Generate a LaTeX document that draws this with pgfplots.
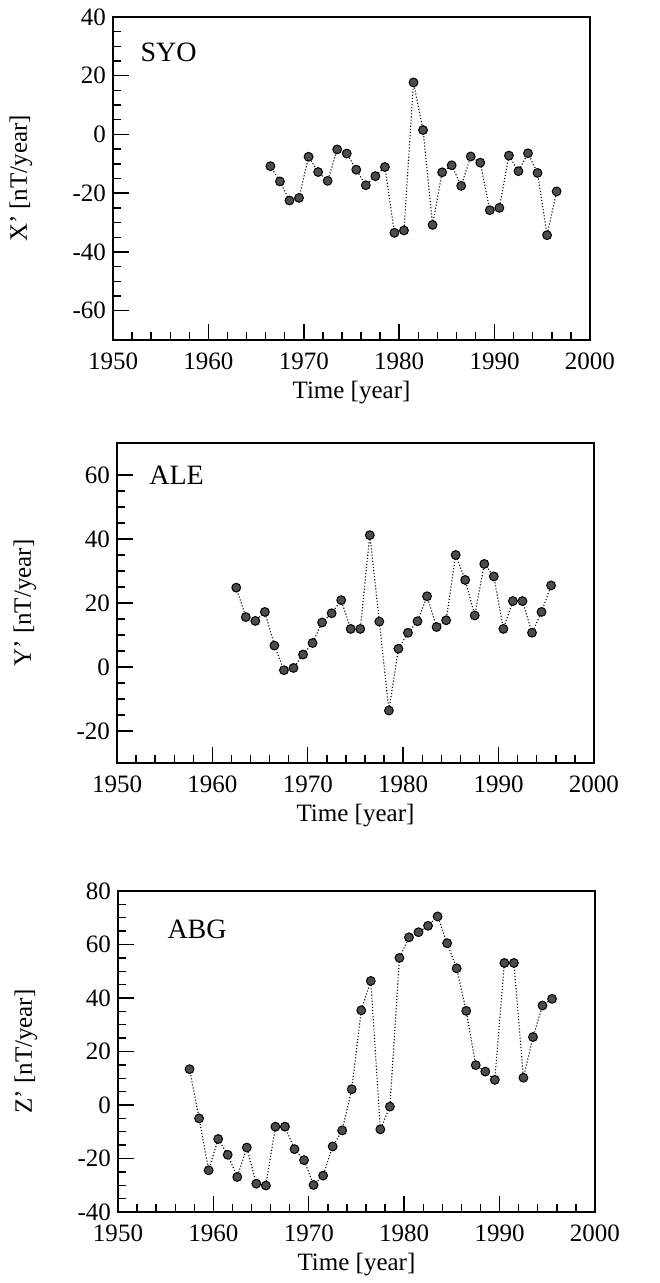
\documentclass[border=0pt]{standalone}
\usepackage{fontspec}
\setmainfont{Liberation Serif}
\usepackage{pgfplots}
\pgfplotsset{compat=1.18}

\pgfplotsset{
  geo/.style={
    scale only axis, width=238.5pt,
    xmin=1950, xmax=2000, xtick={1950,1960,...,2000}, minor x tick num=4,
    tick align=inside, tick pos=left,
    major tick length=8pt, minor tick length=4pt,
    every tick/.style={black, line width=0.7pt},
    axis line style={line width=0.8pt},
    /pgf/number format/assume math mode=true,
    /pgf/number format/1000 sep={},
    tick label style={font=\fontsize{12.5}{14}\selectfont},
    xticklabel style={yshift=-3pt},
    xlabel={Time [year]},
    every axis y label/.style={at={(axis description cs:-0.193,0.5)}, rotate=90,
      anchor=center, font=\fontsize{12.5}{14}\selectfont},
    every axis x label/.style={at={(axis description cs:0.5,0)}, anchor=north,
      yshift=-17pt, font=\fontsize{12.5}{14}\selectfont},
  },
  pts/.style={black, line width=0.55pt, densely dotted, mark=*, mark size=2.2pt,
    mark options={solid, fill=black!70, draw=black, line width=0.5pt}},
}
\tikzset{stn/.style={anchor=north west, inner sep=0pt, font=\fontsize{14}{16}\selectfont}}

\begin{document}
\begin{tikzpicture}
\useasboundingbox (-56.5pt,170pt) rectangle (273pt,-471.5pt);

% SYO
\begin{axis}[geo, height=161.5pt, at={(0pt,0pt)},
    ymin=-70, ymax=40, ytick={-60,-40,...,40}, minor y tick num=3,
    ylabel={X' [nT/year]}]
\addplot[pts] coordinates {
(1966.5,-10.8) (1967.5,-16.0) (1968.5,-22.5) (1969.5,-21.6) (1970.5,-7.6)
(1971.5,-12.8) (1972.5,-15.8) (1973.5,-5.1) (1974.5,-6.5) (1975.5,-12.0)
(1976.5,-17.3) (1977.5,-14.2) (1978.5,-11.1) (1979.5,-33.5) (1980.5,-32.7)
(1981.5,17.7) (1982.5,1.5) (1983.5,-30.8) (1984.5,-12.9) (1985.5,-10.5)
(1986.5,-17.5) (1987.5,-7.5) (1988.5,-9.6) (1989.5,-25.8) (1990.5,-25.0)
(1991.5,-7.2) (1992.5,-12.5) (1993.5,-6.4) (1994.5,-13.1) (1995.5,-34.3)
(1996.5,-19.4)
};
\node[stn] at (rel axis cs:0.057,0.92) {SYO};
\end{axis}

% ALE
\begin{axis}[geo, height=160pt, at={(2pt,-211.5pt)},
    ymin=-30, ymax=70, ytick={-20,0,...,60}, minor y tick num=3,
    ylabel={Y' [nT/year]}]
\addplot[pts] coordinates {
(1962.5,24.8) (1963.5,15.6) (1964.5,14.4) (1965.5,17.2) (1966.5,6.7)
(1967.5,-1.0) (1968.5,-0.3) (1969.5,3.9) (1970.5,7.5) (1971.5,13.9)
(1972.5,16.8) (1973.5,20.9) (1974.5,11.9) (1975.5,11.9) (1976.5,41.2)
(1977.5,14.2) (1978.5,-13.6) (1979.5,5.7) (1980.5,10.7) (1981.5,14.3)
(1982.5,22.1) (1983.5,12.5) (1984.5,14.6) (1985.5,35.0) (1986.5,27.2)
(1987.5,16.1) (1988.5,32.2) (1989.5,28.3) (1990.5,11.9) (1991.5,20.6)
(1992.5,20.6) (1993.5,10.7) (1994.5,17.2) (1995.5,25.5)
};
\node[stn] at (rel axis cs:0.067,0.928) {ALE};
\end{axis}

% ABG
\begin{axis}[geo, height=160.5pt, at={(2.5pt,-436pt)},
    ymin=-40, ymax=80, ytick={-40,-20,...,80}, minor y tick num=3,
    ylabel={Z' [nT/year]}]
\addplot[pts] coordinates {
(1957.5,13.4) (1958.5,-5.0) (1959.5,-24.4) (1960.5,-12.7) (1961.5,-18.6)
(1962.5,-26.9) (1963.5,-15.9) (1964.5,-29.4) (1965.5,-30.1) (1966.5,-8.1)
(1967.5,-8.1) (1968.5,-16.5) (1969.5,-20.6) (1970.5,-29.9) (1971.5,-26.4)
(1972.5,-15.5) (1973.5,-9.5) (1974.5,5.9) (1975.5,35.4) (1976.5,46.4)
(1977.5,-9.1) (1978.5,-0.6) (1979.5,55.0) (1980.5,62.7) (1981.5,64.6)
(1982.5,67.0) (1983.5,70.5) (1984.5,60.5) (1985.5,51.1) (1986.5,35.2)
(1987.5,14.9) (1988.5,12.5) (1989.5,9.4) (1990.5,53.1) (1991.5,53.1)
(1992.5,10.2) (1993.5,25.4) (1994.5,37.2) (1995.5,39.7)
};
\node[stn] at (rel axis cs:0.103,0.91) {ABG};
\end{axis}
\end{tikzpicture}
\end{document}
